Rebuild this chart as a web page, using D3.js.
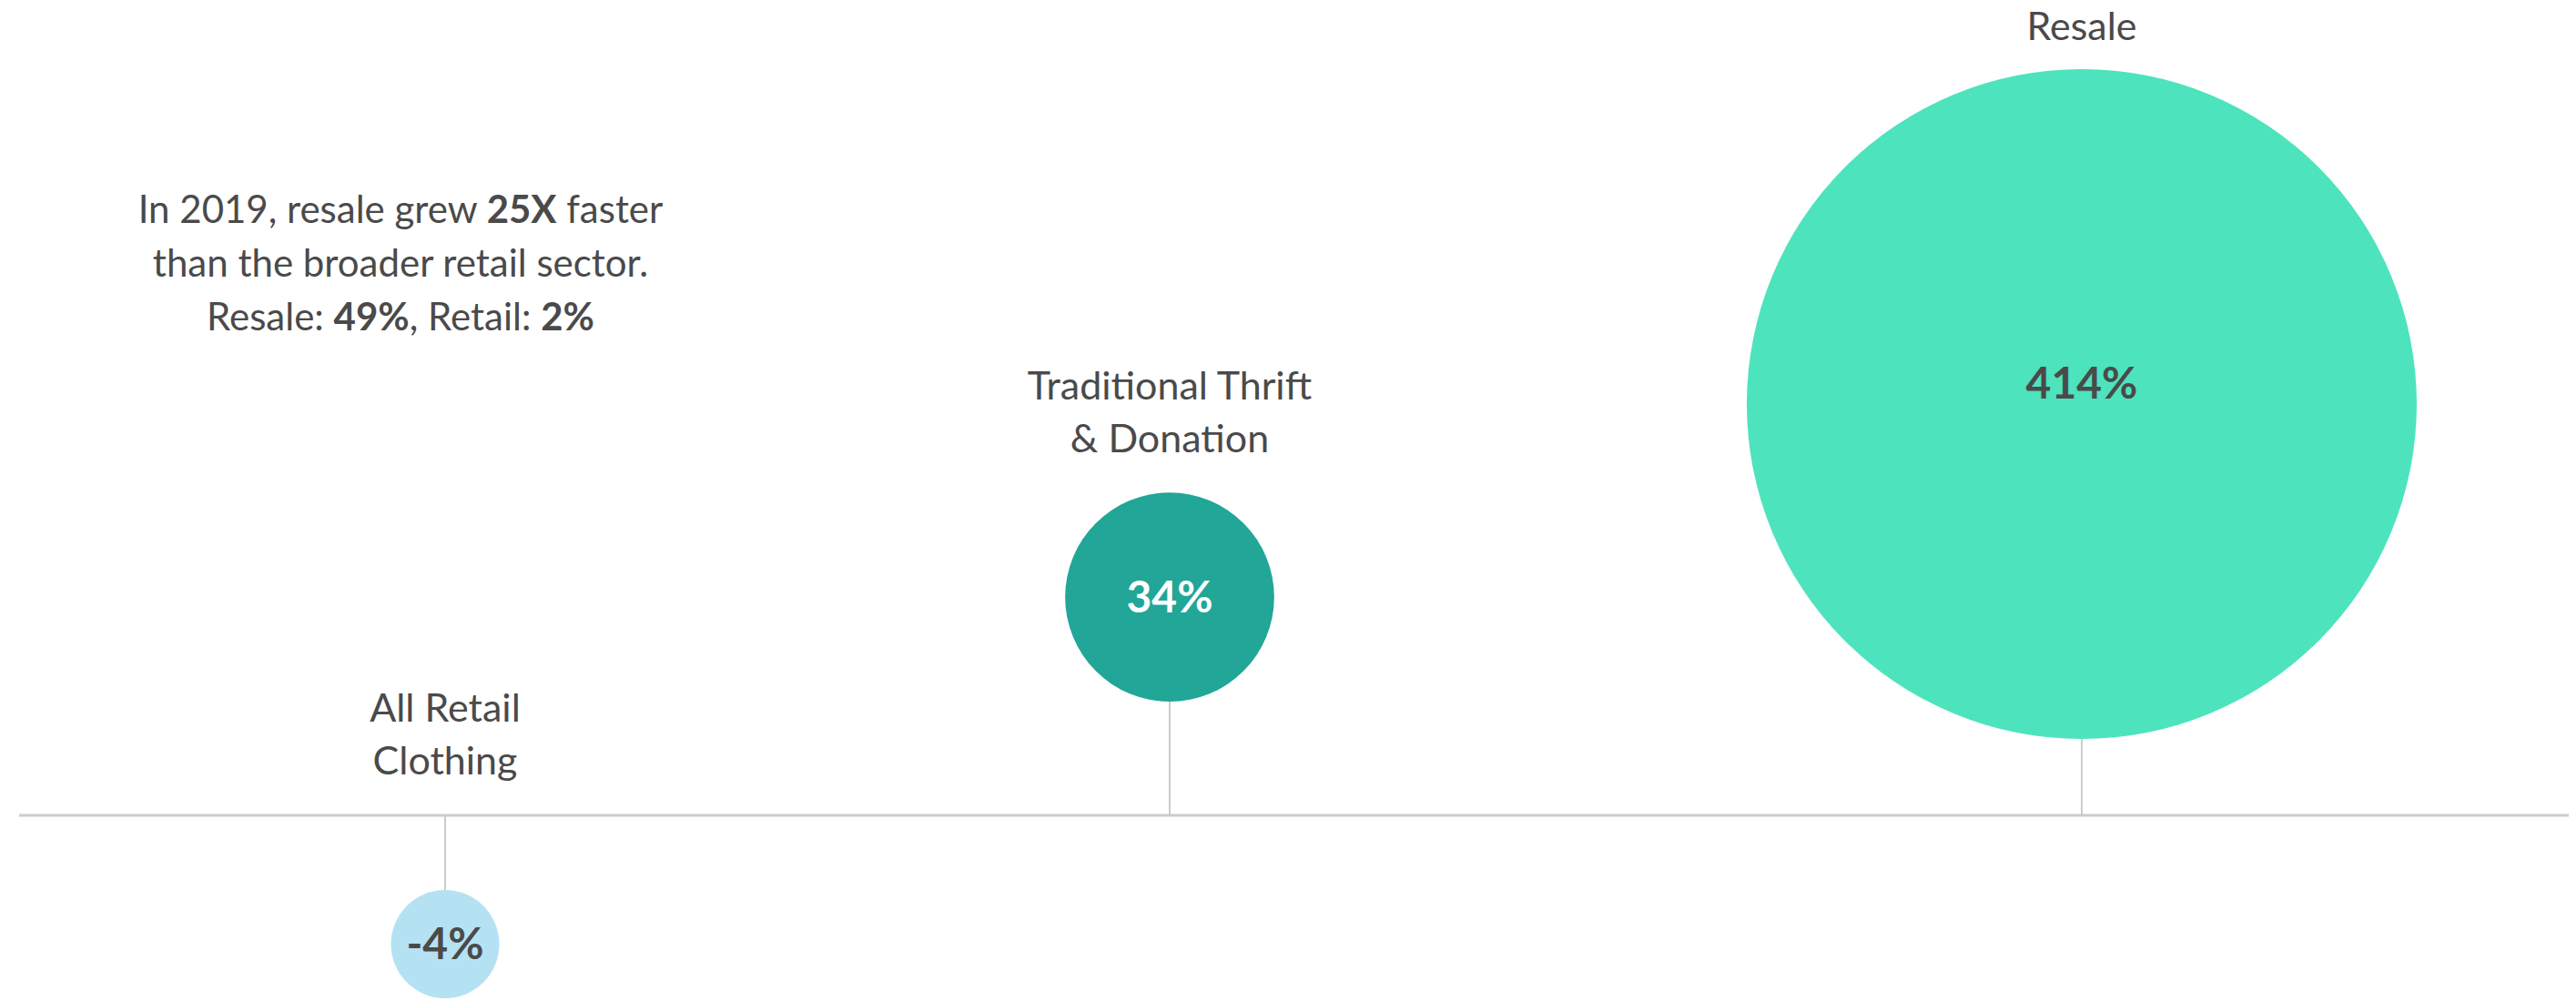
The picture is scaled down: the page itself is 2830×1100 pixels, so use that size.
<!DOCTYPE html>
<html>
<head>
<meta charset="utf-8">
<script src="https://cdn.jsdelivr.net/npm/d3@7"></script>
<style>
  body { margin: 0; background: #fff; }
  text { font-family: Lato, "Open Sans", sans-serif; }
</style>
</head>
<body>
<script>
// data
var categories = ["All Retail Clothing", "Traditional Thrift & Donation", "Resale"];
var labelLines = [["All Retail", "Clothing"], ["Traditional Thrift", "& Donation"], ["Resale"]];
var growth = [-4, 34, 414];
var colors = ["#b5e2f2", "#21a698", "#4de3bd"];
var valueColors = ["#4a4a4a", "#ffffff", "#4a4a4a"];

// note text, bold pieces flagged
var noteLines = [
    [["In 2019, resale grew ", false], ["25X", true], [" faster", false]],
    [["than the broader retail sector.", false]],
    [["Resale: ", false], ["49%", true], [", Retail: ", false], ["2%", true]]
];

var width = 2830, height = 1100;
var baseY = 896;

var svg = d3.select("body")
    .append("svg")
    .attr("width", width)
    .attr("height", height);

// horizontal placement per category
var x = d3.scaleOrdinal()
    .domain(categories)
    .range([489, 1285, 2287]);

// bubble size from growth (offset sqrt)
var r = d3.scaleSqrt()
    .domain([0, 421])
    .range([0, 368]);
function radius(v) { return r(Math.abs(v) + 7); }

// gap between baseline and bubble edge
var stem = d3.scaleOrdinal()
    .domain(categories)
    .range([82, 125, 84]);

// gap between bubble top and label
var labelGap = d3.scaleOrdinal()
    .domain(categories)
    .range([0, 44, 32]);

var data = categories.map(function (c, i) {
    return { name: c, lines: labelLines[i], value: growth[i], color: colors[i], textColor: valueColors[i] };
});

function cy(d) {
    var off = radius(d.value) + stem(d.name);
    return d.value < 0 ? baseY + off : baseY - off;
}

// baseline
svg.append("line")
    .attr("x1", 21)
    .attr("x2", 2822)
    .attr("y1", baseY)
    .attr("y2", baseY)
    .style("stroke", "#cccccc")
    .style("stroke-width", 3);

var g = svg.selectAll(".bubble")
    .data(data)
    .enter()
    .append("g")
    .attr("class", "bubble");

// stems
g.append("line")
    .attr("x1", function (d) { return x(d.name); })
    .attr("x2", function (d) { return x(d.name); })
    .attr("y1", baseY)
    .attr("y2", function (d) { return d.value < 0 ? cy(d) - radius(d.value) : cy(d) + radius(d.value); })
    .style("stroke", "#cccccc")
    .style("stroke-width", 2);

g.append("circle")
    .attr("cx", function (d) { return x(d.name); })
    .attr("cy", cy)
    .attr("r", function (d) { return radius(d.value); })
    .attr("fill", function (d) { return d.color; });

g.append("text")
    .attr("x", function (d) { return x(d.name); })
    .attr("y", function (d) { return d.value > 100 ? cy(d) - 6 : cy(d) + 17; })
    .attr("text-anchor", "middle")
    .attr("font-size", "48px")
    .attr("font-weight", 700)
    .attr("fill", function (d) { return d.textColor; })
    .text(function (d) { return d.value + "%"; });

// category labels
g.each(function (d) {
    var top;
    if (d.value < 0) top = baseY - 103;             // above baseline
    else top = cy(d) - radius(d.value) - labelGap(d.name) - (d.lines.length - 1) * 58;
    var t = d3.select(this).append("text")
        .attr("text-anchor", "middle")
        .attr("font-size", "43px")
        .attr("fill", "#4a4a4a");
    d.lines.forEach(function (ln, i) {
        t.append("tspan")
            .attr("x", x(d.name))
            .attr("y", top + i * 58)
            .text(ln);
    });
});

// note
var note = svg.append("text")
    .attr("text-anchor", "middle")
    .attr("font-size", "42px")
    .attr("fill", "#4a4a4a");
noteLines.forEach(function (parts, i) {
    var line = note.append("tspan")
        .attr("x", 440)
        .attr("y", 245 + i * 59);
    parts.forEach(function (p) {
        line.append("tspan")
            .attr("font-weight", p[1] ? 700 : 400)
            .text(p[0]);
    });
});
</script>
</body>
</html>
